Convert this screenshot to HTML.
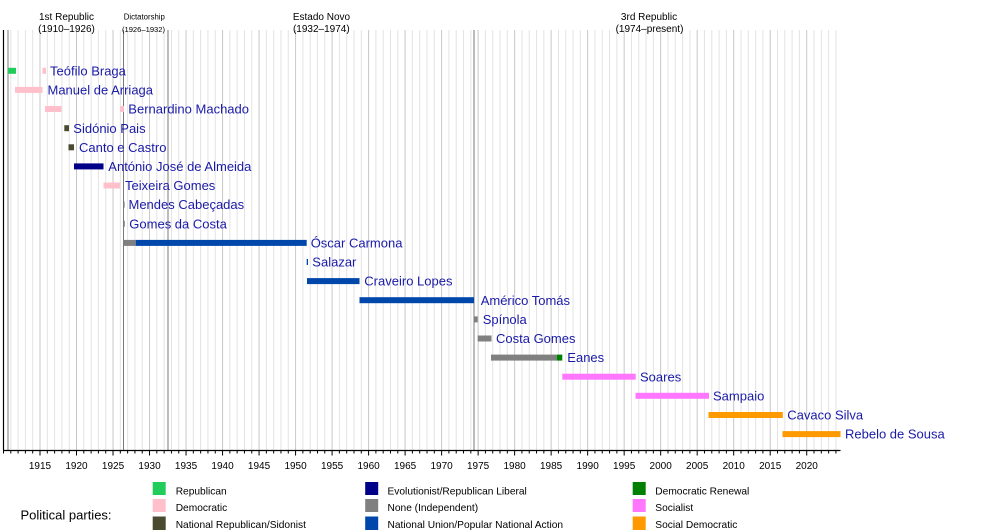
<!DOCTYPE html>
<html>
<head>
<meta charset="utf-8">
<style>
html,body{margin:0;padding:0;background:#fff;}
svg{display:block;}
</style>
</head>
<body>
<svg width="1000" height="530" viewBox="0 0 1000 530" xmlns="http://www.w3.org/2000/svg" font-family="'Liberation Sans', Arial, sans-serif">
<rect x="0" y="0" width="1000" height="530" fill="#fff"/>
<!-- minor grid -->
<path stroke="#e3e3e3" stroke-width="1" fill="none" d="
M10.79 30V450M18.09 30V450M25.40 30V450M32.70 30V450
M47.30 30V450M54.60 30V450M61.91 30V450M69.21 30V450
M83.81 30V450M91.11 30V450M98.42 30V450M105.72 30V450
M120.32 30V450M127.62 30V450M134.93 30V450M142.23 30V450
M156.83 30V450M164.13 30V450M171.44 30V450M178.74 30V450
M193.34 30V450M200.64 30V450M207.95 30V450M215.25 30V450
M229.85 30V450M237.15 30V450M244.46 30V450M251.76 30V450
M266.36 30V450M273.66 30V450M280.97 30V450M288.27 30V450
M302.87 30V450M310.17 30V450M317.48 30V450M324.78 30V450
M339.38 30V450M346.68 30V450M353.99 30V450M361.29 30V450
M375.89 30V450M383.19 30V450M390.50 30V450M397.80 30V450
M412.40 30V450M419.70 30V450M427.01 30V450M434.31 30V450
M448.91 30V450M456.21 30V450M463.52 30V450M470.82 30V450
M485.42 30V450M492.72 30V450M500.03 30V450M507.33 30V450
M521.93 30V450M529.23 30V450M536.54 30V450M543.84 30V450
M558.44 30V450M565.74 30V450M573.05 30V450M580.35 30V450
M594.95 30V450M602.25 30V450M609.56 30V450M616.86 30V450
M631.46 30V450M638.76 30V450M646.07 30V450M653.37 30V450
M667.97 30V450M675.27 30V450M682.58 30V450M689.88 30V450
M704.48 30V450M711.78 30V450M719.09 30V450M726.39 30V450
M740.99 30V450M748.29 30V450M755.60 30V450M762.90 30V450
M777.50 30V450M784.80 30V450M792.11 30V450M799.41 30V450
M814.01 30V450M821.31 30V450M828.62 30V450M835.92 30V450"/>
<!-- major grid -->
<path stroke="#c8c8c8" stroke-width="1" fill="none" d="
M40.00 30V450M76.51 30V450M113.02 30V450M149.53 30V450M186.04 30V450
M222.55 30V450M259.06 30V450M295.57 30V450M332.08 30V450M368.59 30V450
M405.10 30V450M441.61 30V450M478.12 30V450M514.63 30V450M551.14 30V450
M587.65 30V450M624.16 30V450M660.67 30V450M697.18 30V450M733.69 30V450
M770.20 30V450M806.71 30V450"/>
<!-- era lines -->
<path stroke="#7a7a7a" stroke-width="1" fill="none" d="M8 30V450M123.5 30V450M168 30V450M474 30V450"/>
<!-- left border -->
<path stroke="#000" stroke-width="1.2" fill="none" d="M3.5 30V450"/>
<!-- axis -->
<path stroke="#000" stroke-width="1.2" fill="none" d="M3 450.5H840.5"/>
<!-- minor ticks -->
<path stroke="#000" stroke-width="1" fill="none" d="
M3.49 450V453.5M10.79 450V453.5M18.09 450V453.5M25.40 450V453.5M32.70 450V453.5
M47.30 450V453.5M54.60 450V453.5M61.91 450V453.5M69.21 450V453.5
M83.81 450V453.5M91.11 450V453.5M98.42 450V453.5M105.72 450V453.5
M120.32 450V453.5M127.62 450V453.5M134.93 450V453.5M142.23 450V453.5
M156.83 450V453.5M164.13 450V453.5M171.44 450V453.5M178.74 450V453.5
M193.34 450V453.5M200.64 450V453.5M207.95 450V453.5M215.25 450V453.5
M229.85 450V453.5M237.15 450V453.5M244.46 450V453.5M251.76 450V453.5
M266.36 450V453.5M273.66 450V453.5M280.97 450V453.5M288.27 450V453.5
M302.87 450V453.5M310.17 450V453.5M317.48 450V453.5M324.78 450V453.5
M339.38 450V453.5M346.68 450V453.5M353.99 450V453.5M361.29 450V453.5
M375.89 450V453.5M383.19 450V453.5M390.50 450V453.5M397.80 450V453.5
M412.40 450V453.5M419.70 450V453.5M427.01 450V453.5M434.31 450V453.5
M448.91 450V453.5M456.21 450V453.5M463.52 450V453.5M470.82 450V453.5
M485.42 450V453.5M492.72 450V453.5M500.03 450V453.5M507.33 450V453.5
M521.93 450V453.5M529.23 450V453.5M536.54 450V453.5M543.84 450V453.5
M558.44 450V453.5M565.74 450V453.5M573.05 450V453.5M580.35 450V453.5
M594.95 450V453.5M602.25 450V453.5M609.56 450V453.5M616.86 450V453.5
M631.46 450V453.5M638.76 450V453.5M646.07 450V453.5M653.37 450V453.5
M667.97 450V453.5M675.27 450V453.5M682.58 450V453.5M689.88 450V453.5
M704.48 450V453.5M711.78 450V453.5M719.09 450V453.5M726.39 450V453.5
M740.99 450V453.5M748.29 450V453.5M755.60 450V453.5M762.90 450V453.5
M777.50 450V453.5M784.80 450V453.5M792.11 450V453.5M799.41 450V453.5
M814.01 450V453.5M821.31 450V453.5M828.62 450V453.5M835.92 450V453.5"/>
<!-- major ticks -->
<path stroke="#000" stroke-width="1" fill="none" d="
M40.00 450V455.5M76.51 450V455.5M113.02 450V455.5M149.53 450V455.5M186.04 450V455.5
M222.55 450V455.5M259.06 450V455.5M295.57 450V455.5M332.08 450V455.5M368.59 450V455.5
M405.10 450V455.5M441.61 450V455.5M478.12 450V455.5M514.63 450V455.5M551.14 450V455.5
M587.65 450V455.5M624.16 450V455.5M660.67 450V455.5M697.18 450V455.5M733.69 450V455.5
M770.20 450V455.5M806.71 450V455.5"/>
<!-- year labels -->
<g font-size="10" fill="#000" text-anchor="middle">
<text x="40.00" y="468.8">1915</text>
<text x="76.51" y="468.8">1920</text>
<text x="113.02" y="468.8">1925</text>
<text x="149.53" y="468.8">1930</text>
<text x="186.04" y="468.8">1935</text>
<text x="222.55" y="468.8">1940</text>
<text x="259.06" y="468.8">1945</text>
<text x="295.57" y="468.8">1950</text>
<text x="332.08" y="468.8">1955</text>
<text x="368.59" y="468.8">1960</text>
<text x="405.10" y="468.8">1965</text>
<text x="441.61" y="468.8">1970</text>
<text x="478.12" y="468.8">1975</text>
<text x="514.63" y="468.8">1980</text>
<text x="551.14" y="468.8">1985</text>
<text x="587.65" y="468.8">1990</text>
<text x="624.16" y="468.8">1995</text>
<text x="660.67" y="468.8">2000</text>
<text x="697.18" y="468.8">2005</text>
<text x="733.69" y="468.8">2010</text>
<text x="770.20" y="468.8">2015</text>
<text x="806.71" y="468.8">2020</text>
</g>
<!-- era headers -->
<g fill="#000" text-anchor="middle">
<text x="66.5" y="19.8" font-size="10">1st Republic</text>
<text x="66.5" y="31.8" font-size="10">(1910–1926)</text>
<text x="144.3" y="19.6" font-size="7.8">Dictatorship</text>
<text x="143.5" y="32" font-size="7.6">(1926–1932)</text>
<text x="321.5" y="19.8" font-size="10">Estado Novo</text>
<text x="321.3" y="31.8" font-size="10">(1932–1974)</text>
<text x="649" y="19.8" font-size="10">3rd Republic</text>
<text x="649.5" y="31.8" font-size="10">(1974–present)</text>
</g>
<!-- bars -->
<g>
<!-- 0 Teófilo Braga c=70.8 -->
<rect x="8" y="67.8" width="8" height="6" fill="#22cc5a"/>
<rect x="42.5" y="67.8" width="3.5" height="6" fill="#ffc0cb"/>
<!-- 1 Manuel de Arriaga c=89.9 -->
<rect x="15" y="86.9" width="27.5" height="6" fill="#ffc0cb"/>
<!-- 2 Bernardino c=109.0 -->
<rect x="45" y="106" width="16.5" height="6" fill="#ffc0cb"/>
<rect x="120.3" y="106" width="3.7" height="6" fill="#ffc0cb"/>
<!-- 3 Sidónio c=128.2 -->
<rect x="64.3" y="125.2" width="4.7" height="6" fill="#4a4a30"/>
<!-- 4 Canto c=147.3 -->
<rect x="68.5" y="144.3" width="5.5" height="6" fill="#4a4a30"/>
<!-- 5 António José c=166.4 -->
<rect x="74" y="163.4" width="29.5" height="6" fill="#000088"/>
<!-- 6 Teixeira c=185.5 -->
<rect x="103.5" y="182.5" width="16.8" height="6" fill="#ffc0cb"/>
<!-- 7 Mendes c=204.6 -->
<rect x="123.8" y="201.6" width="0.8" height="6" fill="#808080"/>
<!-- 8 Gomes da Costa c=223.8 -->
<rect x="123.6" y="220.8" width="1.2" height="6" fill="#808080"/>
<!-- 9 Óscar Carmona c=242.9 -->
<rect x="123.3" y="239.9" width="12.4" height="6" fill="#808080"/>
<rect x="135.7" y="239.9" width="171" height="6" fill="#0047ab"/>
<!-- 10 Salazar c=262.0 -->
<rect x="306.7" y="259" width="1.3" height="6" fill="#0047ab"/>
<!-- 11 Craveiro c=281.1 -->
<rect x="307" y="278.1" width="52.5" height="6" fill="#0047ab"/>
<!-- 12 Américo c=300.2 -->
<rect x="359.5" y="297.2" width="114.5" height="6" fill="#0047ab"/>
<!-- 13 Spínola c=319.4 -->
<rect x="474.5" y="316.4" width="3.2" height="6" fill="#808080"/>
<!-- 14 Costa Gomes c=338.5 -->
<rect x="477.7" y="335.5" width="13.8" height="6" fill="#808080"/>
<!-- 15 Eanes c=357.6 -->
<rect x="491" y="354.6" width="65.7" height="6" fill="#808080"/>
<rect x="556.7" y="354.6" width="5.6" height="6" fill="#008000"/>
<!-- 16 Soares c=376.7 -->
<rect x="562.3" y="373.7" width="73.4" height="6" fill="#ff77ff"/>
<!-- 17 Sampaio c=395.8 -->
<rect x="635.5" y="392.8" width="73.5" height="6" fill="#ff77ff"/>
<!-- 18 Cavaco c=415.0 -->
<rect x="708.5" y="412" width="74.3" height="6" fill="#ff9900"/>
<!-- 19 Rebelo c=434.1 -->
<rect x="782.5" y="431.1" width="58" height="6" fill="#ff9900"/>
</g>
<!-- labels -->
<g font-size="13" fill="#1a1aa8">
<text x="50" y="75.4">Teófilo Braga</text>
<text x="47.5" y="94.5">Manuel de Arriaga</text>
<text x="128.3" y="113.6">Bernardino Machado</text>
<text x="73.3" y="132.8">Sidónio Pais</text>
<text x="79" y="151.9">Canto e Castro</text>
<text x="108.3" y="171">António José de Almeida</text>
<text x="125" y="190.1">Teixeira Gomes</text>
<text x="128.5" y="209.2">Mendes Cabeçadas</text>
<text x="129.3" y="228.4">Gomes da Costa</text>
<text x="310.7" y="247.5">Óscar Carmona</text>
<text x="312.3" y="266.6">Salazar</text>
<text x="364.3" y="285.7">Craveiro Lopes</text>
<text x="480.7" y="304.8">Américo Tomás</text>
<text x="482.7" y="324">Spínola</text>
<text x="496" y="343.1">Costa Gomes</text>
<text x="567.3" y="362.2">Eanes</text>
<text x="640" y="381.3">Soares</text>
<text x="713" y="400.4">Sampaio</text>
<text x="787.3" y="419.6">Cavaco Silva</text>
<text x="845" y="438.7">Rebelo de Sousa</text>
</g>
<!-- legend -->
<text x="20.5" y="519.6" font-size="13" fill="#000">Political parties:</text>
<g>
<rect x="152.7" y="482" width="13" height="13" fill="#22cc5a"/>
<rect x="152.7" y="499" width="13" height="13" fill="#ffc0cb"/>
<rect x="152.7" y="516.5" width="13" height="13.5" fill="#4a4a30"/>
<rect x="365.2" y="482" width="13" height="13" fill="#000088"/>
<rect x="365.2" y="499" width="13" height="13" fill="#808080"/>
<rect x="365.2" y="516.5" width="13" height="13.5" fill="#0047ab"/>
<rect x="632.7" y="482" width="13" height="13" fill="#008000"/>
<rect x="632.7" y="499" width="13" height="13" fill="#ff77ff"/>
<rect x="632.7" y="516.5" width="13" height="13.5" fill="#ff9900"/>
</g>
<g font-size="10.2" fill="#000">
<text x="175.7" y="494.3">Republican</text>
<text x="175.7" y="511">Democratic</text>
<text x="175.7" y="528">National Republican/Sidonist</text>
<text x="387.5" y="494.3">Evolutionist/Republican Liberal</text>
<text x="387.5" y="511">None (Independent)</text>
<text x="387.5" y="528">National Union/Popular National Action</text>
<text x="655.3" y="494.3">Democratic Renewal</text>
<text x="655.3" y="511">Socialist</text>
<text x="655.3" y="528">Social Democratic</text>
</g>
</svg>
</body>
</html>
